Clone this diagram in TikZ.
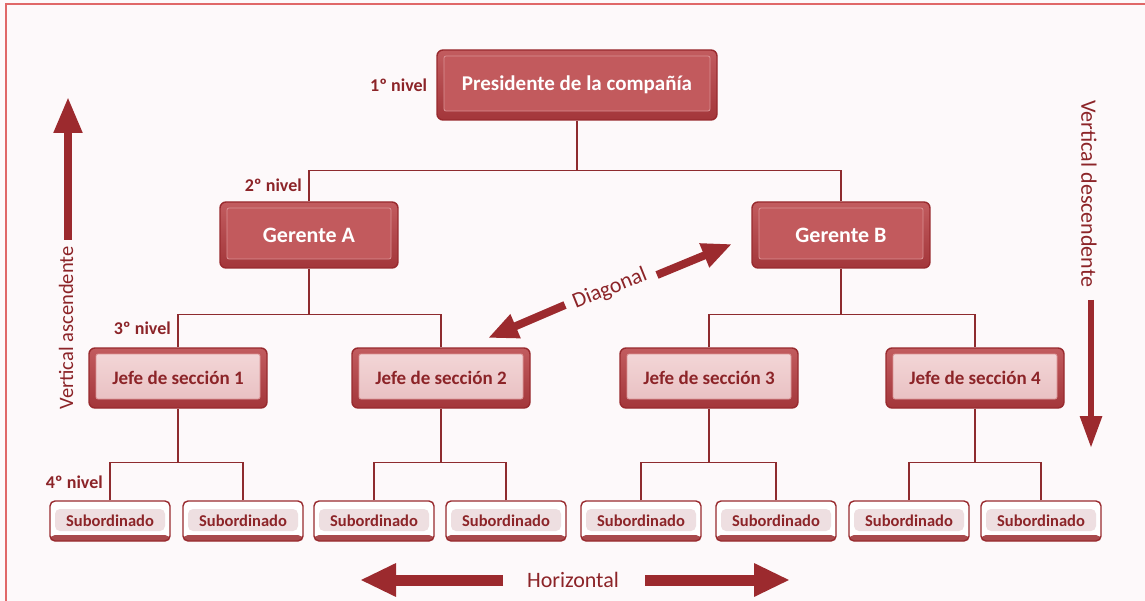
\documentclass[tikz,border=0pt]{standalone}
\usepackage{fontspec}
\setmainfont{Carlito}
\usetikzlibrary{arrows.meta,calc}

\definecolor{bg}{HTML}{FDF9FA}
\definecolor{frameR}{HTML}{E06868}
\definecolor{edgeR}{HTML}{982A2E}
\definecolor{rimTop}{HTML}{C25C5F}
\definecolor{rimBot}{HTML}{A3363A}
\definecolor{faceR}{HTML}{C25A5D}
\definecolor{faceHi}{HTML}{DA9294}
\definecolor{jfaceTop}{HTML}{F4D8D9}
\definecolor{jfaceBot}{HTML}{E7BDBF}
\definecolor{sface}{HTML}{EEDFE1}
\definecolor{textR}{HTML}{8C2428}
\definecolor{lineR}{HTML}{8E2B2E}
\definecolor{arrowR}{HTML}{9C2A2E}

\tikzset{
  bigbox/.style={draw=edgeR, line width=1.4pt, rounded corners=6pt,
    top color=rimTop, bottom color=rimBot, text=white, inner sep=0pt,
    font=\bfseries\fontsize{21}{25}\selectfont,
    path picture={
      \path[fill=faceR, draw=faceHi, line width=0.8pt, rounded corners=2pt]
        ([xshift=7pt,yshift=-6pt]path picture bounding box.north west) rectangle
        ([xshift=-7pt,yshift=9pt]path picture bounding box.south east);
    }},
  jefebox/.style={draw=edgeR, line width=1.4pt, rounded corners=6pt,
    top color=rimTop, bottom color=rimBot, text=textR, inner sep=0pt,
    minimum width=178pt, minimum height=60pt,
    font=\bfseries\fontsize{19}{23}\selectfont,
    path picture={
      \path[top color=jfaceTop, bottom color=jfaceBot, draw=faceHi, line width=0.8pt, rounded corners=2pt]
        ([xshift=7pt,yshift=-6pt]path picture bounding box.north west) rectangle
        ([xshift=-7pt,yshift=9pt]path picture bounding box.south east);
    }},
  subbox/.style={draw=edgeR, line width=1.4pt, rounded corners=5pt,
    fill=white, text=textR, inner sep=0pt,
    minimum width=120pt, minimum height=40pt,
    font=\bfseries\fontsize{16.5}{19}\selectfont,
    path picture={
      \fill[edgeR!85]
        ([yshift=6pt]path picture bounding box.south west) rectangle
        (path picture bounding box.south east);
      \fill[sface]
        ([xshift=5pt,yshift=-8pt]path picture bounding box.north west) rectangle
        ([xshift=-5pt,yshift=10pt]path picture bounding box.south east);
    }},
  conn/.style={draw=lineR, line width=1.5pt},
  lvl/.style={text=textR, font=\bfseries\fontsize{18}{21}\selectfont, inner sep=0pt},
  sidelbl/.style={text=textR, font=\fontsize{22}{26}\selectfont, inner sep=0pt},
  fatarrow/.style={draw=arrowR, line width=8pt, -{Triangle[width=27pt,length=36pt]}},
  thinarrow/.style={draw=arrowR, line width=6pt, -{Triangle[width=21pt,length=32pt]}},
  wideshaft/.style={draw=arrowR, line width=11pt, -{Triangle[width=31pt,length=36pt]}},
  diagarrow/.style={draw=arrowR, line width=8pt, -{Triangle[width=24pt,length=30pt]}}
}

\begin{document}
\begin{tikzpicture}[x=1pt,y=-1pt]
  % canvas and frame
  \path[use as bounding box, fill=bg] (0,0) rectangle (1145,601);
  \draw[frameR, line width=1.5pt] (6,601) -- (6,4) -- (1145,4);

  % level 1
  \node[bigbox, minimum width=280pt, minimum height=70pt] (pres) at (577,85) {Presidente de la compañía};
  % level 2
  \node[bigbox, minimum width=178pt, minimum height=66pt, font=\bfseries\fontsize{22}{26}\selectfont] (ga) at (309,235) {Gerente A};
  \node[bigbox, minimum width=178pt, minimum height=66pt, font=\bfseries\fontsize{22}{26}\selectfont] (gb) at (841,235) {Gerente B};
  % level 3
  \node[jefebox] (j1) at (178,378) {Jefe de sección 1};
  \node[jefebox] (j2) at (441,378) {Jefe de sección 2};
  \node[jefebox] (j3) at (709,378) {Jefe de sección 3};
  \node[jefebox] (j4) at (975,378) {Jefe de sección 4};
  % level 4
  \node[subbox] (s11) at (110,521) {Subordinado};
  \node[subbox] (s12) at (243,521) {Subordinado};
  \node[subbox] (s21) at (374,521) {Subordinado};
  \node[subbox] (s22) at (506,521) {Subordinado};
  \node[subbox] (s31) at (641,521) {Subordinado};
  \node[subbox] (s32) at (776,521) {Subordinado};
  \node[subbox] (s41) at (909,521) {Subordinado};
  \node[subbox] (s42) at (1041,521) {Subordinado};

  % tree connectors
  \coordinate (k0) at ($(pres.south)+(0,50)$);
  \draw[conn] (pres.south) -- (k0);
  \draw[conn] (ga.north) |- (k0);
  \draw[conn] (gb.north) |- (k0);

  \coordinate (ka) at ($(ga.south)+(0,46)$);
  \draw[conn] (ga.south) -- (ka);
  \draw[conn] (j1.north) |- (ka);
  \draw[conn] (j2.north) |- (ka);
  \coordinate (kb) at ($(gb.south)+(0,46)$);
  \draw[conn] (gb.south) -- (kb);
  \draw[conn] (j3.north) |- (kb);
  \draw[conn] (j4.north) |- (kb);

  \foreach \j/\a/\b in {j1/s11/s12, j2/s21/s22, j3/s31/s32, j4/s41/s42}{
    \coordinate (k\j) at ($(\j.south)+(0,54)$);
    \draw[conn] (\j.south) -- (k\j);
    \draw[conn] (\a.north) |- (k\j);
    \draw[conn] (\b.north) |- (k\j);
  }

  % level labels
  \node[lvl, anchor=east] (l1) at ([xshift=-9pt]pres.west) {1º nivel};
  \node[lvl, anchor=east] (l2) at ([xshift=-7pt,yshift=16pt]ga.north) {2º nivel};
  \node[lvl, anchor=east] (l3) at ([xshift=-7pt,yshift=19pt]j1.north) {3º nivel};
  \node[lvl, anchor=east] (l4) at ([xshift=-7pt,yshift=18pt]s11.north) {4º nivel};

  % vertical ascendente
  \node[sidelbl, rotate=90, font=\fontsize{20.5}{24}\selectfont] (vat) at (66,328) {Vertical ascendente};
  \coordinate (va1) at (68,240);
  \coordinate (va2) at (68,97);
  \draw[fatarrow] (va1) -- (va2);

  % vertical descendente
  \node[sidelbl, rotate=-90] (vdt) at (1089,194) {Vertical descendente};
  \coordinate (vd1) at (1091,300);
  \coordinate (vd2) at (1091,448);
  \draw[thinarrow] (vd1) -- (vd2);

  % horizontal
  \node[sidelbl] (ht) at (573,580) {Horizontal};
  \coordinate (hl1) at (503,580);
  \coordinate (hl2) at (360,580);
  \coordinate (hr1) at (645,580);
  \coordinate (hr2) at (790,580);
  \draw[wideshaft] (hl1) -- (hl2);
  \draw[wideshaft] (hr1) -- (hr2);

  % diagonal
  \node[sidelbl, rotate=22] (dt) at (610,289) {Diagonal};
  \coordinate (du1) at (657,275);
  \coordinate (du2) at (732,244);
  \coordinate (dl1) at (565,305);
  \coordinate (dl2) at (488,338);
  \draw[diagarrow] (du1) -- (du2);
  \draw[diagarrow] (dl1) -- (dl2);
\end{tikzpicture}
\end{document}
